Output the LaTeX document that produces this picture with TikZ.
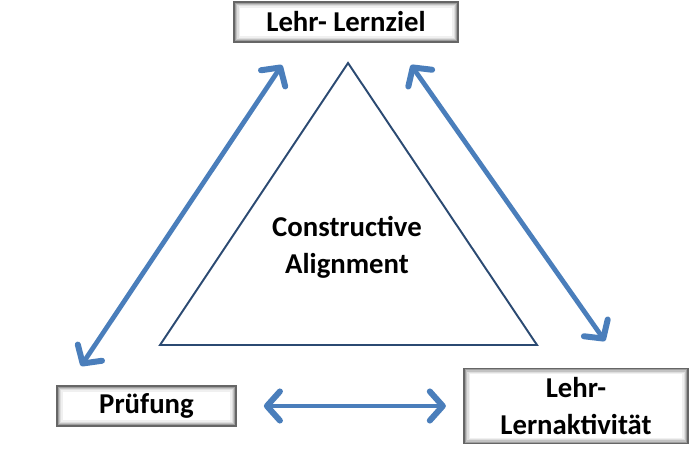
\documentclass[tikz,border=0pt]{standalone}
\usepackage{fontspec}
\setmainfont{Carlito}
\usepackage{tikz}
\usetikzlibrary{arrows.meta,positioning}
\definecolor{alignblue}{HTML}{4A7EBB}
\definecolor{aligndark}{HTML}{2B4A72}
\begin{document}
\begin{tikzpicture}[
  x=0.567pt,y=-0.567pt,
  font=\bfseries\fontsize{16.3}{21}\selectfont,
  goalbox/.style={draw=black!60,line width=0.6pt,fill=white,align=center,inner sep=0pt,
    path picture={\foreach \k/\c in {0.5pt/55,1.1pt/38,1.7pt/24,2.3pt/13,2.9pt/6}{
      \draw[black!\c,line width=0.7pt] ([shift={(\k,\k)}]path picture bounding box.south west)
        rectangle ([shift={(-\k,-\k)}]path picture bounding box.north east);}}},
  barbtip/.tip={Straight Barb[length=2.6mm,width=5.8mm,round,line width=3.4pt]},
  arr/.style={barbtip-barbtip,draw=alignblue,line width=2.7pt,line cap=round}
]
\useasboundingbox (0,0) rectangle (691,451);
\node[goalbox,minimum width=127pt,minimum height=22.7pt] (ziel) at (346,22) {Lehr- Lernziel};
\node[goalbox,minimum width=101.5pt,minimum height=22.7pt] (pruef) at (146.5,406) {Prüfung};
\node[goalbox,minimum width=127pt,minimum height=43pt] (aktiv) at (576,406) {Lehr-\\Lernaktivität};
% triangle
\coordinate (top) at (348,63);
\coordinate (bl) at (160,345);
\coordinate (br) at (537,345);
\draw[aligndark,line width=1.1pt,line join=miter] (top) -- (br) -- (bl) -- cycle;
\node[align=center] (ca) at (347,247) {Constructive\\Alignment};
% arrows
\coordinate (l1) at (81,366);
\coordinate (l2) at (282,65);
\coordinate (r1) at (411,65);
\coordinate (r2) at (605,341);
\draw[arr] (l1) -- (l2);
\draw[arr] (r1) -- (r2);
\draw[arr,shorten <=15.5pt,shorten >=10pt] (pruef) -- (aktiv);
\end{tikzpicture}
\end{document}
